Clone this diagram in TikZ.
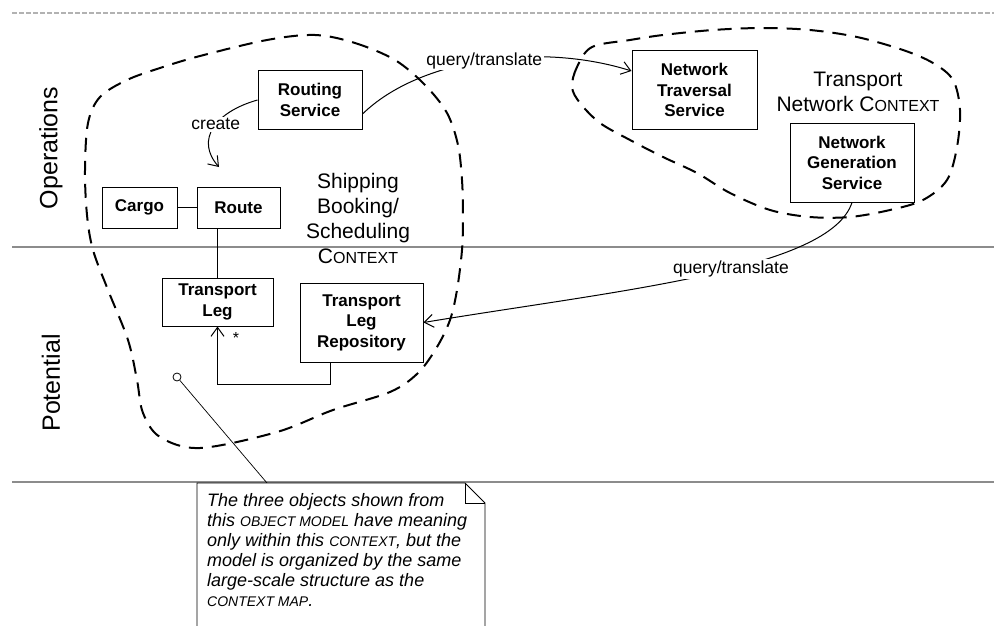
\documentclass[tikz,border=0pt]{standalone}
\usepackage{fontspec}
\setmainfont{Liberation Sans}
\usetikzlibrary{arrows.meta}
\newcommand{\smlcaps}[1]{{\fontsize{14}{14}\selectfont #1}}
\begin{document}
\begin{tikzpicture}[x=1pt,y=-1pt,
  box/.style={draw=black, line width=1pt, fill=white, align=center, font=\fontsize{17}{20.5}\selectfont\bfseries, inner sep=0pt},
  ctx/.style={font=\fontsize{21}{25}\selectfont, align=center, inner sep=0pt},
  lane/.style={draw=black!45, line width=1.6pt},
  blob/.style={draw=black, line width=2pt, dash pattern=on 14pt off 9pt},
  lbl/.style={font=\fontsize{17.5}{18}\selectfont, fill=white, inner sep=1.5pt},
  conn/.style={draw=black, line width=1pt},
  barb/.style={-{Straight Barb[length=9pt,width=13pt]}},
  lanelbl/.style={font=\fontsize{25}{25}\selectfont, rotate=90, inner sep=0pt}
]
\useasboundingbox (0,0) rectangle (994,626);

% swim lanes
\coordinate (tl0) at (12,13);
\coordinate (tr0) at (994,13);
\coordinate (ml0) at (12,247);
\coordinate (mr0) at (994,247);
\coordinate (bl0) at (12,482);
\coordinate (br0) at (994,482);
\draw[draw=black!30, line width=1.2pt, dash pattern=on 5pt off 2pt] (tl0) -- (tr0);
\draw[lane] (ml0) -- (mr0);
\draw[lane] (bl0) -- (br0);
\node[lanelbl] (ops) at (51,148) {Operations};
\node[lanelbl] (pot) at (51,383) {Potential};

% context boundaries
\draw[blob] plot[smooth cycle, tension=0.55] coordinates {
 (315,35) (355,43) (395,60) (425,85) (447,113) (458,145) (462,180) (463,215)
 (462,250) (457,290) (450,320) (437,347) (418,373) (390,392) (333,410) (277,432)
 (200,448) (160,437) (143,413) (137,380) (128,340) (108,290) (93,250) (87,215)
 (85,170) (88,123) (100,97) (127,80) (160,68) (200,56) (267,40)};
\draw[blob] plot[smooth cycle, tension=0.55] coordinates {
 (592,47) (577,67) (572,87) (580,103) (600,123) (630,140) (663,157) (697,173)
 (730,193) (770,210) (810,217) (850,217) (890,210) (923,200) (947,180) (957,147)
 (960,110) (953,80) (933,63) (903,50) (857,37) (810,30) (763,28) (713,30)
 (663,35) (630,40)};

% context labels
\node[ctx] (shipctx) at (358,218) {Shipping\\Booking/\\Scheduling\\C{\fontsize{16}{16}\selectfont ONTEXT}};
\node[ctx] (tnctx) at (858,92) {Transport\\Network C{\fontsize{16}{16}\selectfont ONTEXT}};

% boxes
\node[box, minimum width=104pt, minimum height=58pt] (rs) at (310,100) {Routing\\Service};
\node[box, minimum width=75pt, minimum height=41pt] (cargo) at (139.5,207.5) {Cargo};
\node[box, minimum width=83pt, minimum height=41pt] (route) at (238.5,207.5) {Route};
\node[box, minimum width=125pt, minimum height=78pt] (nts) at (694.5,90) {Network\\Traversal\\Service};
\node[box, minimum width=124pt, minimum height=79pt] (ngs) at (852,162.5) {Network\\Generation\\Service};
\node[box, minimum width=111pt, minimum height=48pt] (tleg) at (217.5,302) {Transport\\Leg};
\node[box, minimum width=123pt, minimum height=79pt] (tlr) at (361.5,322.5) {Transport\\Leg\\Repository};

% associations
\draw[conn] (cargo) -- (route);
\draw[conn] (tleg.north) -- (tleg.north |- route.south);
\draw[conn, barb] ([xshift=-31.5pt]tlr.south) -- ++(0,22) -| (tleg.south);
\node[font=\fontsize{16}{16}\selectfont] (star) at (236,338) {*};

% create
\coordinate (crend) at (219,167);
\draw[conn, barb] (rs.west) .. controls (215,112) and (195,140) .. node[lbl, pos=0.45] (createlbl) {create} (crend);

% query/translate (top)
\draw[conn, barb] ([yshift=-14pt]rs.east) .. controls (420,58) and (540,42) .. node[lbl, pos=0.5] (q1) {query/translate} ([yshift=19pt]nts.west);

% query/translate (bottom)
\draw[conn, barb] (ngs.south) .. controls (830,270) and (620,290) .. node[lbl, pos=0.44] (q2) {query/translate} (tlr.east);

% note
\node[circle, draw=black, line width=0.8pt, minimum size=8pt, inner sep=0pt] (pin) at (177,377) {};
\coordinate (notepin) at (267,483);
\draw[conn, line width=0.7pt] (pin) -- (notepin);
\coordinate (n1) at (197,483);
\coordinate (n2) at (465,483);
\coordinate (n3) at (485,503);
\coordinate (n4) at (485,640);
\coordinate (n5) at (197,640);
\draw[draw=black, line width=0.8pt, fill=white] (n1) -- (n2) -- (n3) -- (n4) -- (n5) -- cycle;
\draw[draw=black, line width=0.8pt] (n2) |- (n3);
\node[anchor=north west, align=left, inner sep=0pt, font=\fontsize{18}{20}\selectfont\itshape] (notetext) at (207,493)
 {The three objects shown from\\
  this \smlcaps{OBJECT MODEL} have meaning\\
  only within this \smlcaps{CONTEXT}, but the\\
  model is organized by the same\\
  large-scale structure as the\\
  \smlcaps{CONTEXT MAP}.};
\end{tikzpicture}
\end{document}
